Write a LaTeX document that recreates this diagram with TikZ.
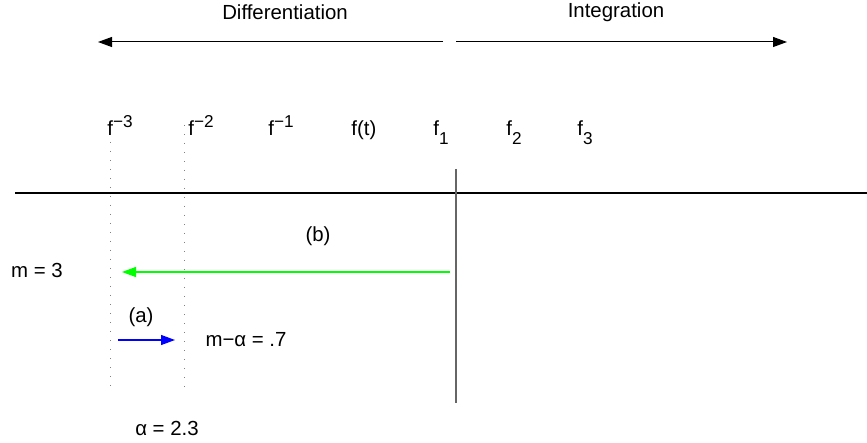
\documentclass[tikz,border=0pt]{standalone}
\usepackage{fontspec}
\setmainfont{Liberation Sans}
\usetikzlibrary{arrows.meta}
\tikzset{
  lbl/.style={inner sep=0pt, font=\fontsize{10.2}{12}\selectfont},
  fl/.style={inner sep=0pt, anchor=base west, font=\fontsize{10.2}{12}\selectfont},
  tip/.style={-{Triangle[length=7pt,width=5pt]}},
  dotline/.style={gray, line width=0.5pt, dash pattern=on 0.5pt off 4pt},
}
\newcommand{\supx}[1]{\raisebox{0.42em}{\fontsize{8.6}{10}\selectfont #1}}
\newcommand{\subx}[1]{\raisebox{-0.4em}{\fontsize{8.6}{10}\selectfont #1}}
\begin{document}
\begin{tikzpicture}[x=0.5pt,y=-0.5pt]
\useasboundingbox (0,0) rectangle (867,443);
% titles
\node[lbl] (diff) at (285,12) {Differentiation};
\node[lbl] (integ) at (616,12) {Integration};
% top arrows
\coordinate (dS) at (443,42);
\coordinate (dE) at (98,42);
\coordinate (iS) at (456,42);
\coordinate (iE) at (787,42);
\draw[tip, line width=0.5pt] (dS) -- (dE);
\draw[tip, line width=0.5pt] (iS) -- (iE);
% function labels
\node[fl] (fm3) at (107,136) {f\supx{−3}};
\node[fl] (fm2) at (188,136) {f\supx{−2}};
\node[fl] (fm1) at (268,136) {f\supx{−1}};
\node[fl] (ft) at (351,136) {f(t)};
\node[fl] (f1) at (433,136) {f\subx{1}};
\node[fl] (f2) at (506,136) {f\subx{2}};
\node[fl] (f3) at (577,136) {f\subx{3}};
% axes
\coordinate (hL) at (15,193);
\coordinate (hR) at (867,193);
\draw[line width=1pt] (hL) -- (hR);
\coordinate (vT) at (456,169);
\coordinate (vB) at (456,403);
\draw[line width=1pt, black!60] (vT) -- (vB);
% dotted verticals
\coordinate (d1T) at (110,142);
\coordinate (d1B) at (110,391);
\coordinate (d2T) at (184,125);
\coordinate (d2B) at (184,393);
\draw[dotline] (d1T) -- (d1B);
\draw[dotline] (d2T) -- (d2B);
% labels
\node[lbl] (b) at (318,236) {(b)};
\node[lbl] (m3) at (37,270) {m = 3};
\node[lbl] (a) at (141,317) {(a)};
\node[lbl] (ma) at (246,340) {m−α = .7};
\node[lbl] (al) at (167,428) {α = 2.3};
% green arrow
\coordinate (gS) at (450,272);
\coordinate (gE) at (122,272);
\draw[tip, green, line width=0.6pt] (gS) -- (gE);
% blue arrow
\coordinate (bS) at (118,340);
\coordinate (bE) at (175,340);
\draw[tip, blue, line width=0.6pt] (bS) -- (bE);
\end{tikzpicture}
\end{document}
